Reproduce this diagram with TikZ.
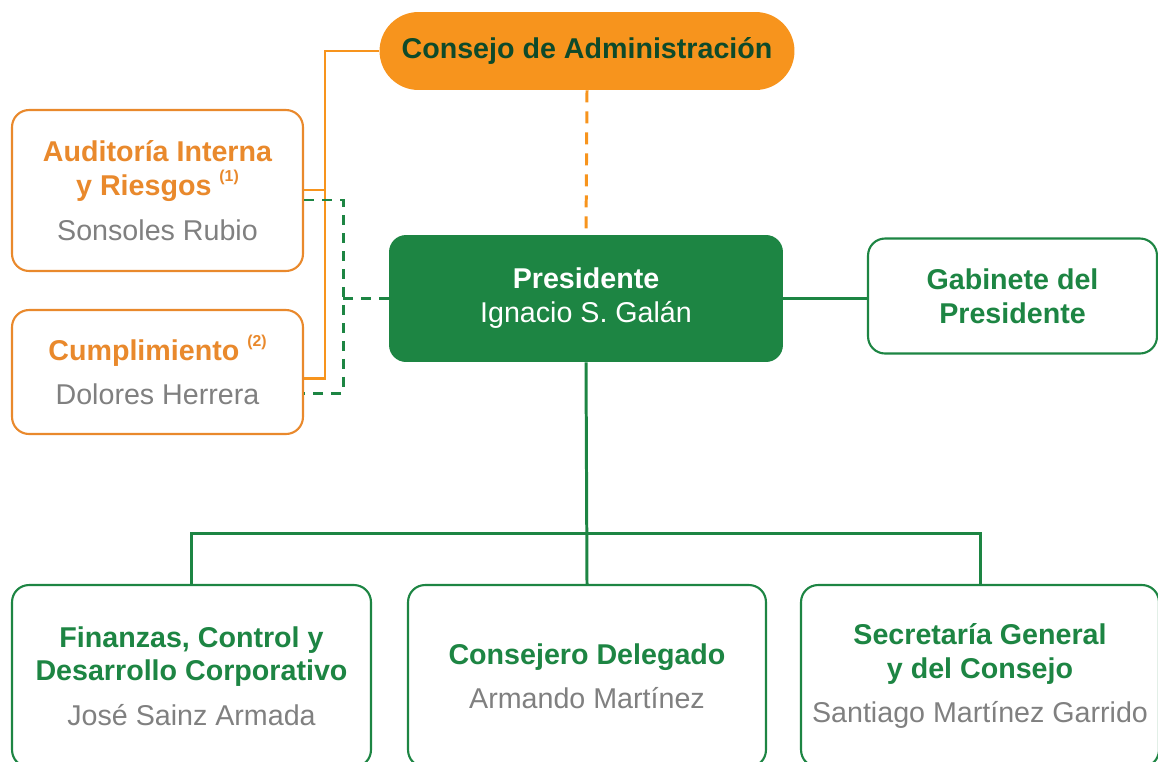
\documentclass[tikz,border=0pt]{standalone}
\usepackage[rgb]{xcolor}
\usepackage{fontspec}
\setmainfont{Liberation Sans}
\usepackage{tikz}

\definecolor{ibeorange}{HTML}{F7941D}
\definecolor{ibeorangeline}{HTML}{E9892C}
\definecolor{ibegreen}{HTML}{1D8543}
\definecolor{ibedark}{HTML}{0E4A2A}
\definecolor{ibegray}{HTML}{808080}

\newcommand{\boxtitle}{\fontsize{16.3}{19.3}\selectfont\bfseries}
\newcommand{\boxname}[1]{\\[6pt]{\mdseries\color{ibegray}#1}}
\newcommand{\callnote}[1]{\smash{\raisebox{0.48em}{\fontsize{9}{9}\selectfont(#1)}}}

\begin{document}
\begin{tikzpicture}[x=0.02cm, y=-0.02cm,
  greenbox/.style={draw=ibegreen, line width=1.2pt, fill=white, rounded corners=0.34cm,
    text=ibegreen, align=center, font=\boxtitle, inner sep=0pt},
  orangebox/.style={greenbox, draw=ibeorangeline, text=ibeorangeline},
  greenline/.style={ibegreen, line width=1.7pt},
  orangeline/.style={ibeorange, line width=1.7pt},
  greendash/.style={greenline, dash pattern=on 0.2cm off 0.16cm},
  orangedash/.style={orangeline, dash pattern=on 0.24cm off 0.18cm}]

\useasboundingbox (0,0) rectangle (1158,761);
\clip (0,0) rectangle (1158,761);

%% top of the chart
\path
(587,51) node [fill=ibeorange, rounded corners=0.78cm, minimum width=8.3cm, minimum height=1.56cm,
  inner sep=0pt, text=ibedark, font=\boxtitle] (consejo){Consejo de Administración};

\path
(586,298.5) node [fill=ibegreen, rounded corners=0.34cm, minimum width=7.88cm, minimum height=2.54cm,
  inner sep=0pt, text=white, align=center, font=\boxtitle] (presidente){Presidente\\{\mdseries Ignacio S. Galán}};

\path
(1012.5,296) node [greenbox, minimum width=5.78cm, minimum height=2.3cm] (gabinete){Gabinete del\\Presidente};

%% orange boxes on the left
\path
(157.5,190.5) node [orangebox, minimum width=5.82cm, minimum height=3.22cm] (auditoria)
  {Auditoría Interna\\y Riesgos \callnote{1}\boxname{Sonsoles Rubio}};
\path
(157.5,372) node [orangebox, minimum width=5.82cm, minimum height=2.48cm] (cumplimiento)
  {Cumplimiento \callnote{2}\boxname{Dolores Herrera}};

%% bottom row
\path
(191.5,676) node [greenbox, minimum width=7.18cm, minimum height=3.64cm] (finanzas)
  {Finanzas, Control y\\Desarrollo Corporativo\boxname{José Sainz Armada}};
\path
(587,676) node [greenbox, minimum width=7.16cm, minimum height=3.64cm] (consejero)
  {Consejero Delegado\boxname{Armando Martínez}};
\path
(980,676) node [greenbox, minimum width=7.16cm, minimum height=3.64cm] (secretaria)
  {Secretaría General\\y del Consejo\boxname{Santiago Martínez Garrido}};

%% connectors
\coordinate (obustop) at (325,190);
\coordinate (obusbot) at (325,378);
\coordinate (gdashtop) at (343,200);
\coordinate (gdashbot) at (343,393);
\coordinate (gbar) at (586,533);

\draw[orangedash] (consejo.south) -- (presidente.north);
\draw[orangeline] (consejo.west) -| (obusbot) -- (cumplimiento.east |- obusbot);
\draw[orangeline] (auditoria.east |- obustop) -- (obustop);

\draw[greendash] (auditoria.east |- gdashtop) -- (gdashtop) -- (gdashbot) -- (cumplimiento.east |- gdashbot);
\draw[greendash] (presidente.west) -- (presidente.west -| gdashtop);

\draw[greenline] (presidente.east) -- (gabinete.west |- presidente.east);
\draw[greenline] (presidente.south) -- (consejero.north);
\draw[greenline] (finanzas.north) |- (gbar) -| (secretaria.north);

\end{tikzpicture}
\end{document}
